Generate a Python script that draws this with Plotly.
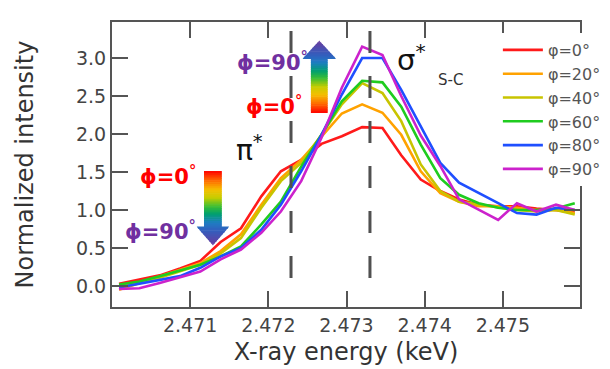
import plotly.graph_objects as go

# ---------------- data ----------------
energy = [2.47009, 2.47035, 2.47061, 2.47087, 2.47113, 2.47139, 2.47165, 2.47191,
          2.47216, 2.47242, 2.47268, 2.47294, 2.47320, 2.47346, 2.47370, 2.47395,
          2.47420, 2.47444, 2.47469, 2.47494, 2.47518, 2.47543, 2.47568, 2.47592]

phi0 = [0.03, 0.08, 0.14, 0.23, 0.33, 0.58, 0.76, 1.18, 1.51, 1.66, 1.87, 1.97,
        2.09, 2.08, 1.72, 1.40, 1.25, 1.14, 1.07, 1.05, 1.05, 1.02, 1.00, 0.98]
phi20 = [-0.05, 0.04, 0.13, 0.21, 0.30, 0.46, 0.68, 1.07, 1.42, 1.66, 1.97, 2.27,
         2.39, 2.28, 1.99, 1.51, 1.22, 1.11, 1.05, 1.05, 1.03, 1.00, 1.00, 0.96]
phi40 = [0.00, 0.04, 0.11, 0.19, 0.28, 0.43, 0.63, 1.03, 1.38, 1.62, 1.99, 2.39,
         2.67, 2.54, 2.17, 1.60, 1.25, 1.11, 1.07, 1.03, 1.00, 0.98, 1.00, 0.94]
phi60 = [0.02, 0.06, 0.13, 0.20, 0.28, 0.39, 0.52, 0.81, 1.11, 1.57, 1.99, 2.43,
         2.70, 2.68, 2.36, 1.86, 1.42, 1.20, 1.09, 1.03, 1.00, 1.00, 1.02, 1.09]
phi80 = [-0.02, 0.03, 0.08, 0.13, 0.24, 0.39, 0.50, 0.74, 1.07, 1.51, 1.99, 2.52,
         3.00, 3.00, 2.58, 2.10, 1.62, 1.36, 1.22, 1.09, 0.96, 0.94, 1.03, 1.00]
phi90 = [-0.04, -0.03, 0.04, 0.11, 0.19, 0.35, 0.48, 0.70, 0.98, 1.38, 1.95, 2.61,
         3.15, 3.04, 2.50, 1.98, 1.58, 1.14, 1.00, 0.87, 1.09, 0.98, 1.07, 1.00]

series_names = ["φ=0°", "φ=20°", "φ=40°", "φ=60°", "φ=80°", "φ=90°"]
series_values = [phi0, phi20, phi40, phi60, phi80, phi90]
series_colors = ["#FF1A1A", "#FFA200", "#C8C400", "#1FCC1F", "#1F4FFF", "#CC22CC"]

x_tickvals = [2.471, 2.472, 2.473, 2.474, 2.475]
x_ticktext = ["2.471", "2.472", "2.473", "2.474", "2.475"]
y_tickvals = [0.0, 0.5, 1.0, 1.5, 2.0, 2.5, 3.0]
y_ticktext = ["0.0", "0.5", "1.0", "1.5", "2.0", "2.5", "3.0"]

edge_energies = [2.47229, 2.47330]   # dashed guide lines (pi*, sigma*)

# ---------------- layout geometry ----------------
W, H = 610, 369
PL, PR, PT, PB = 104, 577, 14, 299


def px_x(px):
    return (px - PL) / (PR - PL)


def px_y(py):
    return (PB - py) / (PB - PT)


fig = go.Figure()
for name, vals, col in zip(series_names, series_values, series_colors):
    fig.add_trace(go.Scatter(x=energy, y=vals, mode="lines", name=name,
                             line=dict(color=col, width=2.6)))

shapes = []
for e in edge_energies:
    shapes.append(dict(type="line", xref="x", yref="y", x0=e, x1=e,
                       y0=3.355, y1=0.105,
                       line=dict(color="#505050", width=3, dash="22px,23px"),
                       layer="above"))

# gradient arrows built from thin slices
stops = [(0.0, (255, 0, 0)), (0.12, (255, 100, 0)), (0.25, (245, 190, 0)),
         (0.36, (200, 205, 0)), (0.48, (60, 190, 50)), (0.58, (0, 160, 110)),
         (0.70, (30, 125, 195)), (0.80, (50, 95, 190)), (1.0, (105, 60, 160))]


def grad(t):
    for (t0, c0), (t1, c1) in zip(stops[:-1], stops[1:]):
        if t <= t1:
            f = (t - t0) / (t1 - t0) if t1 > t0 else 0
            c = [round(a + (b - a) * f) for a, b in zip(c0, c1)]
            return "rgb(%d,%d,%d)" % tuple(c)
    return "rgb(%d,%d,%d)" % stops[-1][1]


def arrow(cx, y_start, y_tip, shaft_w, head_w, head_frac):
    n = 40
    total = y_tip - y_start
    hb = 1 - head_frac
    out = []
    for i in range(n):
        t0 = i / n
        t1 = (i + 1) / n
        ya = y_start + total * t0
        yb = y_start + total * t1 + (0.6 if total > 0 else -0.6)

        if t1 <= hb:
            wa = wb = shaft_w / 2
        elif t0 >= hb:
            wa = head_w / 2 * (1 - t0) / head_frac
            wb = head_w / 2 * (1 - t1) / head_frac
        else:
            wa = wb = shaft_w / 2
        path = "M %f %f L %f %f L %f %f L %f %f Z" % (
            px_x(cx - wa), px_y(ya), px_x(cx + wa), px_y(ya),
            px_x(cx + wb), px_y(yb), px_x(cx - wb), px_y(yb))
        col = grad((i + 0.5) / n)
        out.append(dict(type="path", xref="paper", yref="paper", path=path,
                        fillcolor=col, line=dict(width=0), layer="above"))
    return out


shapes += arrow(206, 163, 237, 18, 34, 0.26)
shapes += arrow(313.5, 105, 33, 17, 35, 0.26)

RED = "#FF0000"
PURPLE = "#7030A0"
bold = dict(family="DejaVu Sans", size=21, weight="bold")

annotations = [
    dict(text="ϕ=0<sup>°</sup>", x=px_x(161), y=px_y(167), font=dict(bold, color=RED)),
    dict(text="ϕ=90<sup>°</sup>", x=px_x(153), y=px_y(222), font=dict(bold, color=PURPLE)),
    dict(text="ϕ=90<sup>°</sup>", x=px_x(266), y=px_y(53), font=dict(bold, color=PURPLE)),
    dict(text="ϕ=0<sup>°</sup>", x=px_x(268), y=px_y(97), font=dict(bold, color=RED)),
    dict(text="π<sup>*</sup>", x=px_x(243), y=px_y(140),
         font=dict(family="DejaVu Sans", size=28, color="#111111")),
    dict(text="σ<sup>*</sup>", x=px_x(407), y=px_y(50),
         font=dict(family="DejaVu Sans", size=29, color="#111111")),
    dict(text="S-C", x=px_x(446), y=px_y(72),
         font=dict(family="DejaVu Sans", size=15, color="#333333")),
]
for a in annotations:
    a.update(xref="paper", yref="paper", showarrow=False,
             xanchor="center", yanchor="middle")

axis_common = dict(showline=True, linecolor="#555555", linewidth=2, mirror="ticks",
                   ticks="inside", ticklen=16, tickwidth=2, tickcolor="#555555",
                   showgrid=False, zeroline=False,
                   tickfont=dict(family="DejaVu Sans", size=19, color="#444444"))

fig.update_layout(
    width=W, height=H,
    margin=dict(l=PL, r=W - PR, t=PT, b=H - PB),
    plot_bgcolor="white", paper_bgcolor="white",
    xaxis=dict(axis_common, range=[2.47000, 2.475987], tickvals=x_tickvals,
               ticktext=x_ticktext,
               title=dict(text="X-ray energy (keV)", standoff=8,
                          font=dict(family="DejaVu Sans", size=24, color="#333333"))),
    yaxis=dict(axis_common, range=[-0.276, 3.474], tickvals=y_tickvals,
               ticktext=y_ticktext,
               title=dict(text="Normalized intensity", standoff=36,
                          font=dict(family="DejaVu Sans", size=24, color="#333333"))),
    legend=dict(x=px_x(494), y=px_y(25), xanchor="left", yanchor="top",
                bgcolor="white", borderwidth=0, itemwidth=40,
                font=dict(family="DejaVu Sans", size=16, color="#555555"),
                tracegroupgap=0),
    shapes=shapes,
    annotations=annotations,
    showlegend=True,
)

fig.write_html("out.html")
